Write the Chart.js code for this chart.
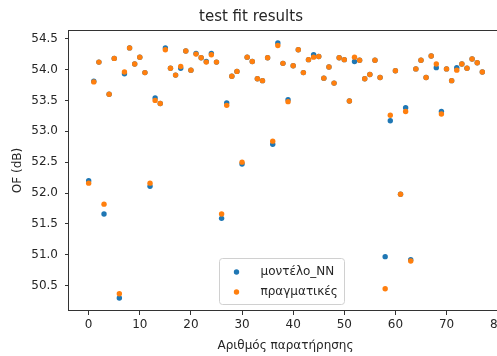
<!DOCTYPE html>
<html>
<head>
<meta charset="utf-8">
<script src="https://cdn.jsdelivr.net/npm/chart.js@4/dist/chart.umd.min.js"></script>
<style>
  html, body { margin: 0; padding: 0; background: #fff; overflow: hidden; }
  #wrap { width: 520px; height: 356px; }
</style>
</head>
<body>
<div id="wrap"><canvas id="chart-fit" width="520" height="356"></canvas></div>
<script>
// -- DATA ----------------------------------------------
const titleText = "test fit results";
const xLabel = "Αριθμός παρατήρησης";
const yLabel = "OF (dB)";
const seriesNames = ["μοντέλο_NN", "πραγματικές"];

const modelValues = [
  52.20, 53.81, 54.12, 51.66, 53.60, 54.18, 50.30, 53.93, 54.35, 54.09,
  54.20, 53.95, 52.11, 53.54, 53.45, 54.35, 54.02, 53.91, 54.02, 54.30,
  53.99, 54.26, 54.19, 54.13, 54.26, 54.12, 51.59, 53.46, 53.89, 53.97,
  52.47, 54.20, 54.13, 53.85, 53.82, 54.19, 52.79, 54.43, 54.10, 53.51,
  54.06, 54.32, 53.95, 54.16, 54.24, 54.21, 53.86, 54.04, 53.78, 54.19,
  54.16, 53.49, 54.13, 54.15, 53.85, 53.92, 54.15, 53.87, 50.97, 53.17,
  53.98, 51.98, 53.38, 50.92, 54.01, 54.15, 53.87, 54.22, 54.03, 53.32,
  54.01, 53.82, 54.03, 54.09, 54.02, 54.17, 54.11, 53.96
];

const actualValues = [
  52.16, 53.80, 54.12, 51.82, 53.60, 54.18, 50.37, 53.96, 54.35, 54.09,
  54.20, 53.95, 52.16, 53.50, 53.45, 54.32, 54.02, 53.91, 54.05, 54.30,
  53.99, 54.25, 54.19, 54.12, 54.24, 54.12, 51.66, 53.42, 53.89, 53.97,
  52.50, 54.20, 54.13, 53.85, 53.82, 54.19, 52.84, 54.39, 54.10, 53.48,
  54.06, 54.32, 53.95, 54.16, 54.20, 54.21, 53.86, 54.04, 53.78, 54.19,
  54.16, 53.49, 54.20, 54.15, 53.85, 53.92, 54.15, 53.87, 50.45, 53.26,
  53.98, 51.98, 53.32, 50.90, 54.01, 54.15, 53.87, 54.22, 54.09, 53.28,
  54.01, 53.82, 53.99, 54.09, 54.02, 54.17, 54.11, 53.96
];

const xTicks = [0, 10, 20, 30, 40, 50, 60, 70, 80];
const yTicks = [50.5, 51.0, 51.5, 52.0, 52.5, 53.0, 53.5, 54.0, 54.5];

const BLUE = "#1f77b4";
const ORANGE = "#ff7f0e";
const TEXT = "#262626";
const FONT = "'DejaVu Sans', sans-serif";

function toPoints(values) {
  return values.map((v, i) => ({ x: i, y: v }));
}

// -- PLUGINS -------------------------------------------
const framePlugin = {
  id: "frame",
  afterDraw(chart) {
    const { ctx, chartArea: a } = chart;
    ctx.save();
    ctx.strokeStyle = "#333";
    ctx.lineWidth = 1;
    ctx.strokeRect(Math.round(a.left) - 0.5, Math.round(a.top) + 0.5,
      Math.round(a.right - a.left) + 1, Math.round(a.bottom - a.top) - 1);
    ctx.restore();
  }
};

const boxLegendPlugin = {
  id: "boxLegend",
  afterDraw(chart) {
    const { ctx, chartArea: a } = chart;
    const sets = [chart.data.datasets[1], chart.data.datasets[0]];
    const w = 125, h = 46;
    const x0 = 219.5;
    const y0 = Math.round(a.bottom - 7 - h) + 0.5;
    ctx.save();
    ctx.beginPath();
    ctx.roundRect(x0, y0, w, h, 3);
    ctx.fillStyle = "rgba(255,255,255,0.8)";
    ctx.fill();
    ctx.strokeStyle = "#d0d0d0";
    ctx.lineWidth = 1;
    ctx.stroke();
    ctx.font = "12px " + FONT;
    ctx.textBaseline = "middle";
    ctx.textAlign = "left";
    sets.forEach((ds, i) => {
      const cy = y0 + 13.5 + i * 20;
      ctx.beginPath();
      ctx.arc(x0 + 17, cy, 2.7, 0, Math.PI * 2);
      ctx.fillStyle = ds.backgroundColor;
      ctx.fill();
      ctx.fillStyle = TEXT;
      ctx.fillText(ds.label, x0 + 41, cy);
    });
    ctx.restore();
  }
};

// -- RENDER --------------------------------------------
const ctx = document.getElementById("chart-fit");
new Chart(ctx, {
  type: "scatter",
  data: {
    datasets: [
      {
        label: seriesNames[1],
        data: toPoints(actualValues),
        backgroundColor: ORANGE,
        borderWidth: 0,
        pointRadius: 2.7,
        order: 0
      },
      {
        label: seriesNames[0],
        data: toPoints(modelValues),
        backgroundColor: BLUE,
        borderWidth: 0,
        pointRadius: 2.7,
        order: 1
      }
    ]
  },
  options: {
    responsive: false,
    animation: false,
    layout: { padding: { left: 0, right: 18, top: 0, bottom: 0 } },
    scales: {
      x: {
        type: "linear",
        min: -3.85,
        max: 80.85,
        afterBuildTicks: (scale) => { scale.ticks = xTicks.map((v) => ({ value: v })); },
        afterFit: (scale) => { scale.height = 45; },
        ticks: {
          color: TEXT,
          font: { family: FONT, size: 12 },
          padding: 3,
          maxRotation: 0,
          callback: (v) => String(v)
        },
        grid: { display: true, drawOnChartArea: false, drawTicks: true, tickLength: 4, color: "#333" },
        border: { display: false },
        title: {
          display: true,
          text: xLabel,
          color: TEXT,
          font: { family: FONT, size: 12 },
          padding: { top: 0, bottom: 3 }
        }
      },
      y: {
        type: "linear",
        min: 50.09,
        max: 54.64,
        afterBuildTicks: (scale) => { scale.ticks = yTicks.map((v) => ({ value: v })); },
        afterFit: (scale) => { scale.width = 69; },
        ticks: {
          color: TEXT,
          font: { family: FONT, size: 12 },
          padding: 7,
          callback: (v) => v.toFixed(1)
        },
        grid: { display: true, drawOnChartArea: false, drawTicks: true, tickLength: 4, color: "#333" },
        border: { display: false },
        title: {
          display: true,
          text: yLabel,
          color: TEXT,
          font: { family: FONT, size: 12 },
          padding: { top: 11, bottom: 0 }
        }
      }
    },
    plugins: {
      legend: { display: false },
      tooltip: { enabled: false },
      title: {
        display: true,
        text: titleText,
        color: TEXT,
        font: { family: FONT, size: 15, weight: "normal" },
        padding: { top: 8, bottom: 4 }
      }
    }
  },
  plugins: [framePlugin, boxLegendPlugin]
});
</script>
</body>
</html>
